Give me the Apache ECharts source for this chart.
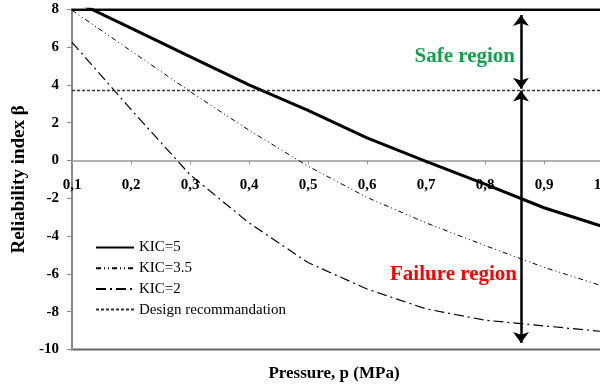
<!DOCTYPE html>
<html>
<head>
<meta charset="utf-8">
<script src="https://cdn.jsdelivr.net/npm/echarts@6/dist/echarts.min.js"></script>
<style>
  html, body { margin: 0; padding: 0; background: #fff; }
  #chart { width: 600px; height: 390px; }
</style>
</head>
<body>
<div id="chart"></div>
<script>
// values
const pressure = [0.1, 0.2, 0.3, 0.4, 0.5, 0.6, 0.7, 0.8, 0.9, 1.0]
const kic5 = [8.5, 7.0, 5.5, 4.0, 2.65, 1.2, -0.05, -1.25, -2.5, -3.5]
const kic35 = [7.95, 5.8, 3.65, 1.6, -0.3, -1.95, -3.3, -4.5, -5.65, -6.65]
const kic2 = [6.25, 2.7, -0.75, -3.3, -5.4, -6.8, -7.85, -8.45, -8.75, -9.05]
const designBeta = 3.7
const arrowP = 0.861
const safeArrow = [7.7, 3.8]
const failArrow = [3.7, -9.65]

const serif = 'Liberation Serif'
const pairs = (ys) => pressure.map((p, i) => [p, ys[i]])

const chart = echarts.init(document.getElementById('chart'))

// grid: y from 8 (top) to -10 (bottom); x axis line sits at beta = 0
const gridTop = 9.3
const gridHeight = 340.2
const zeroOffset = -gridHeight * 10 / 18

const option = {
  animation: false,
  grid: {
    left: 72, top: gridTop, width: 531, height: gridHeight,
    containLabel: false, outerBoundsMode: 'none',
    show: true, borderColor: '#666', borderWidth: 2
  },
  legend: {
    orient: 'vertical',
    left: 95, top: 240, padding: 0,
    itemWidth: 38, itemHeight: 14, itemGap: 5.7,
    itemStyle: { color: 'rgba(0,0,0,0)', borderWidth: 0, opacity: 0 },
    textStyle: { fontFamily: serif, fontSize: 15, color: '#000' },
    data: ['KIC=5', 'KIC=3.5', 'KIC=2', 'Design recommandation']
  },
  xAxis: [{
    type: 'value', min: 0.1, max: 1.0, interval: 0.1,
    position: 'bottom', offset: zeroOffset,
    axisLine: { onZero: false, lineStyle: { color: '#999', width: 1.5 } },
    axisTick: { show: true, inside: false, length: 4, lineStyle: { color: '#999' } },
    axisLabel: {
      margin: 17, fontFamily: serif, fontSize: 15, fontWeight: 'bold', color: '#000',
      formatter: (v) => v.toFixed(1).replace('.', ',')
    },
    splitLine: { show: false }
  }, {
    type: 'value', min: 0.1, max: 1.0, position: 'top',
    axisLine: { show: true, onZero: false, lineStyle: { color: '#000', width: 2 } },
    axisTick: { show: false }, axisLabel: { show: false }, splitLine: { show: false }
  }],
  yAxis: {
    type: 'value', min: -10, max: 8, interval: 2,
    axisLine: { show: true, onZero: false, lineStyle: { color: '#888', width: 2 } },
    axisTick: { show: true, length: 5, lineStyle: { color: '#888' } },
    axisLabel: { margin: 13, fontFamily: serif, fontSize: 15, fontWeight: 'bold', color: '#000' },
    splitLine: { show: false },
    name: 'Reliability index β',
    nameLocation: 'middle', nameGap: 29,
    nameTextStyle: { fontFamily: serif, fontSize: 19, fontWeight: 'bold', color: '#000' }
  },
  series: [{
    name: 'KIC=5', type: 'line', data: pairs(kic5), symbol: 'none',
    lineStyle: { color: '#000', width: 3 }, itemStyle: { color: '#000' }
  }, {
    name: 'KIC=3.5', type: 'line', data: pairs(kic35), symbol: 'none',
    lineStyle: { color: '#000', width: 1, type: [5, 3, 1, 3, 1, 3] }, itemStyle: { color: '#000' }
  }, {
    name: 'KIC=2', type: 'line', data: pairs(kic2), symbol: 'none',
    lineStyle: { color: '#000', width: 1.2, type: [10, 4, 2, 4] }, itemStyle: { color: '#000' }
  }, {
    name: 'Design recommandation', type: 'line',
    data: pressure.map(p => [p, designBeta]), symbol: 'none',
    lineStyle: { color: '#333', width: 1.5, type: [3, 2] }, itemStyle: { color: '#333' },
    markLine: {
      silent: true,
      symbol: ['arrow', 'arrow'], symbolSize: [12, 11],
      label: { show: false },
      lineStyle: { color: '#000', width: 2.5, type: 'solid' },
      data: [
        [{ coord: [arrowP, safeArrow[0]] }, { coord: [arrowP, safeArrow[1]] }],
        [{ coord: [arrowP, failArrow[0]] }, { coord: [arrowP, failArrow[1]] }]
      ]
    }
  }],
  graphic: [{
    type: 'text', x: 515, y: 57,
    style: { text: 'Safe region', fill: '#13a04a', font: 'bold 21px "Liberation Serif"', align: 'right', verticalAlign: 'middle' }
  }, {
    type: 'text', x: 517, y: 275,
    style: { text: 'Failure region', fill: '#ff0000', font: 'bold 21px "Liberation Serif"', align: 'right', verticalAlign: 'middle' }
  }, {
    type: 'text', x: 334, y: 374,
    style: { text: 'Pressure, p (MPa)', fill: '#000', font: 'bold 17px "Liberation Serif"', align: 'center', verticalAlign: 'middle' }
  }]
}

chart.setOption(option)
</script>
</body>
</html>
